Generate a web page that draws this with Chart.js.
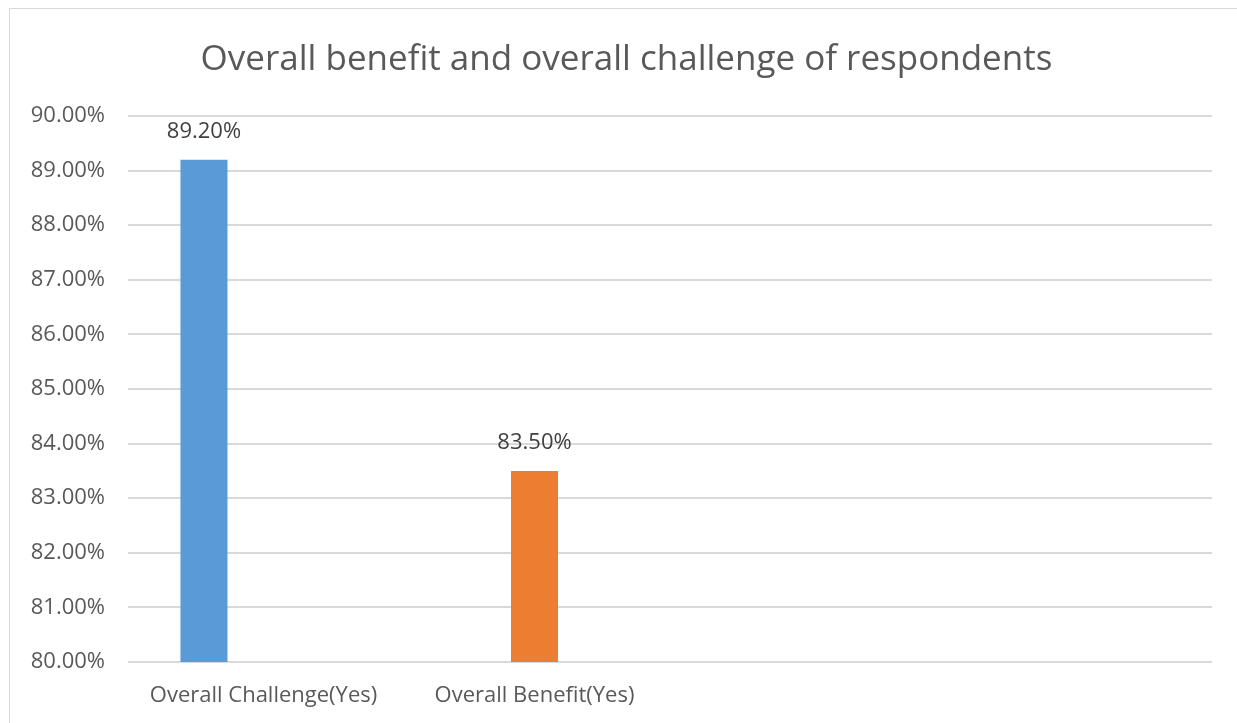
<!DOCTYPE html>
<html>
<head>
<meta charset="utf-8">
<script src="https://cdn.jsdelivr.net/npm/chart.js@4/dist/chart.umd.min.js"></script>
<style>
  html, body { margin: 0; padding: 0; background: #ffffff; overflow: hidden; }
  #frame { position: absolute; left: 9px; top: 8px; width: 1260px; height: 740px; border: 1px solid #d9d9d9; box-sizing: border-box; }
  #wrap { position: absolute; left: 0; top: 0; width: 1237px; height: 723px; }
</style>
</head>
<body>
<div id="frame"></div>
<div id="wrap"><canvas id="c" width="1237" height="723"></canvas></div>
<script>
const titleText = "Overall benefit and overall challenge of respondents";
const categories = ["Overall Challenge(Yes)", "Overall Benefit(Yes)", "", ""];
const challengeValues = [89.2, null, null, null];
const benefitValues = [null, 83.5, null, null];
const emptySeries = [null, null, null, null];
const yTicks = [80, 81, 82, 83, 84, 85, 86, 87, 88, 89, 90];

const valueLabels = {
  id: 'valueLabels',
  afterDatasetsDraw(chart) {
    const ctx = chart.ctx;
    ctx.save();
    ctx.font = '22px "Open Sans"';
    ctx.fillStyle = '#404040';
    ctx.textAlign = 'center';
    ctx.textBaseline = 'middle';
    chart.data.datasets.forEach((ds, di) => {
      const meta = chart.getDatasetMeta(di);
      meta.data.forEach((bar, i) => {
        const v = ds.data[i];
        if (v === null || v === undefined) return;
        ctx.fillText(v.toFixed(2) + '%', bar.x, bar.y - 28);
      });
    });
    ctx.restore();
  }
};

// Excel centres the title on the full chart box, which extends slightly past the right edge
const titleShift = {
  id: 'titleShift',
  afterLayout(chart) {
    if (chart.titleBlock) { chart.titleBlock.left += 31; }
  }
};

new Chart(document.getElementById('c'), {
  type: 'bar',
  data: {
    labels: categories,
    datasets: [
      { label: 'Overall Challenge(Yes)', data: challengeValues, backgroundColor: '#5B9BD5' },
      { label: 'Overall Benefit(Yes)', data: benefitValues, backgroundColor: '#ED7D31' },
      { label: '', data: emptySeries, backgroundColor: '#A5A5A5' }
    ]
  },
  options: {
    responsive: false,
    animation: false,
    categoryPercentage: 0.659,
    barPercentage: 0.79,
    layout: { padding: { left: 10, right: 25, top: 39, bottom: 0 } },
    plugins: {
      legend: { display: false },
      tooltip: { enabled: false },
      title: {
        display: true,
        text: titleText,
        color: '#595959',
        font: { family: 'Open Sans', size: 35, weight: 'normal' },
        padding: { top: 0, bottom: 35 }
      }
    },
    scales: {
      x: {
        grid: { display: false },
        border: { display: false },
        ticks: {
          color: '#595959',
          font: { family: 'Open Sans', size: 22 },
          padding: 13,
          maxRotation: 0,
          autoSkip: false
        },
        afterFit(s) { s.height = 61; }
      },
      y: {
        min: 80,
        max: 90,
        grid: { color: '#d9d9d9', lineWidth: 2, drawTicks: false },
        border: { display: false },
        afterBuildTicks(s) { s.ticks = yTicks.map(v => ({ value: v })); },
        ticks: {
          color: '#595959',
          font: { family: 'Open Sans', size: 22 },
          padding: 23,
          callback: (v) => Number(v).toFixed(2) + '%'
        },
        afterFit(s) { s.width = 118; }
      }
    }
  },
  plugins: [valueLabels, titleShift]
});
</script>
</body>
</html>
